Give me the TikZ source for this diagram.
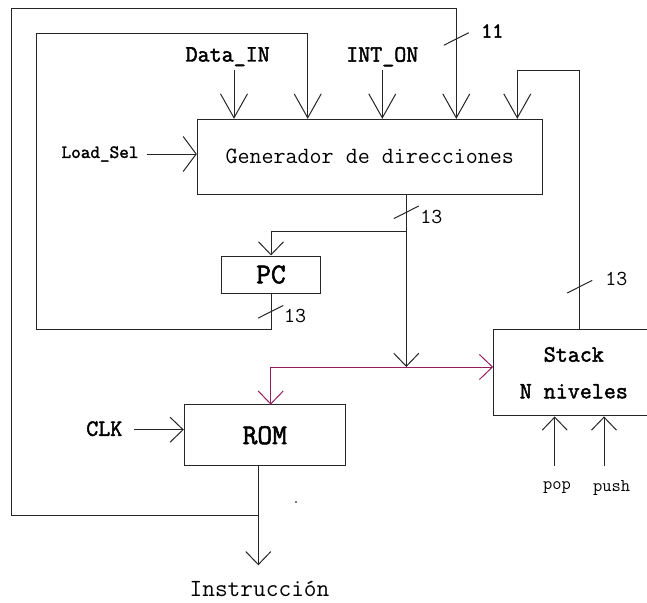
\documentclass[tikz,border=0pt]{standalone}
\usepackage{fontspec}
\setmonofont{Latin Modern Mono}[AutoFakeBold=2]
\usetikzlibrary{arrows.meta}
\newlength\pxu
\setlength\pxu{0.75pt}
\definecolor{wirered}{RGB}{150,30,95}
\tikzset{
  wire/.style={draw=black!85,line width=0.75pt},
  redwire/.style={draw=wirered},
  inarrow/.style={wire,-{Straight Barb[length=9.75pt,width=18.75pt]}},
  topin/.style={wire,-{Straight Barb[length=18pt,width=20.25pt]}},
  sidein/.style={wire,-{Straight Barb[length=9.75pt,width=26.25pt]}},
  blockbox/.style={draw=black!85,line width=0.75pt,inner sep=0pt,align=center},
  sig/.style={font=\ttfamily\bfseries\fontsize{17.5}{21}\selectfont,inner sep=1pt},
  bigsig/.style={font=\ttfamily\bfseries\fontsize{21.5}{24}\selectfont},
  smallsig/.style={font=\ttfamily\bfseries\fontsize{14}{16}\selectfont,inner sep=1pt},
  thinsig/.style={font=\ttfamily\fontsize{13.5}{16}\selectfont,inner sep=1pt},
  numlbl/.style={font=\ttfamily\fontsize{16}{18}\selectfont,inner sep=1pt},
}
\begin{document}
\begin{tikzpicture}[x=0.75pt,y=-0.75pt]
    \useasboundingbox (0,0) rectangle (647,603);
    \clip (0,0) rectangle (647,603);

    % blocks
    \node[blockbox,minimum width=345\pxu,minimum height=74.7\pxu,font=\ttfamily\fontsize{17.5}{21}\selectfont] (gen) at (369.8,156.7) {Generador de direcciones};
    \node[blockbox,bigsig,minimum width=99.4\pxu,minimum height=37\pxu] (pc) at (271,274.5) {PC};
    \node[blockbox,bigsig,minimum width=161\pxu,minimum height=61.3\pxu] (rom) at (264.8,435.3) {ROM};
    \node[blockbox,sig,minimum width=160.3\pxu,minimum height=86.3\pxu] (stack) at (573.8,372.8) {Stack\\[6.5pt]N niveles};

    % signals
    \node[sig] (datain) at (227.7,56.7) {Data\_IN};
    \node[sig] (inton) at (382.3,56.7) {INT\_ON};
    \node[smallsig] (loadsel) at (100,154) {Load\_Sel};
    \node[sig] (clk) at (104.3,428.7) {CLK};
    \node[thinsig] (pop) at (557,488) {pop};
    \node[thinsig] (push) at (611.7,488) {push};
    \node[font=\ttfamily\fontsize{18.5}{21}\selectfont,inner sep=0pt] (instr) at (259.5,589) {Instrucción};

    \coordinate (dtail) at (234,70);
    \coordinate (itail) at (382.3,70);
    \coordinate (pcloop) at (36.3,329.3);
    \coordinate (pctop) at (307.7,33);
    \coordinate (romtap) at (258.3,515.3);
    \coordinate (outtop) at (11.7,8.3);
    \coordinate (outright) at (456.3,8.3);
    \coordinate (stktop) at (517.3,70);
    \coordinate (stkout) at (579.7,329.7);
    \coordinate (genout) at (406.3,194);
    \coordinate (split) at (406.3,231.3);
    \coordinate (join) at (406.3,367);
    \coordinate (romin) at (270.7,404.7);
    \coordinate (romout) at (258.3,466);
    \coordinate (instrtip) at (258.3,565.3);
    \coordinate (clktail) at (134.3,429.7);
    \coordinate (loadtail) at (146.7,154);
    \coordinate (poptail) at (554.7,466);
    \coordinate (pushtail) at (604,466);

    % into the generator
    \draw[topin] (dtail) -- (dtail |- gen.north);
    \draw[topin] (itail) -- (itail |- gen.north);
    \draw[topin] (pc.south) |- (pcloop) |- (pctop) -- (pctop |- gen.north);
    \draw[topin] (romtap) -| (outtop) -| (outright |- gen.north);
    \draw[topin] (stkout) |- (stktop) -- (stktop |- gen.north);
    \draw[sidein] (loadtail) -- (loadtail -| gen.west);

    % address paths
    \draw[inarrow] (genout) -- (join);
    \draw[inarrow] (split) -| (pc.north);
    \draw[inarrow,redwire] (join) -| (romin);
    \draw[inarrow,redwire] (join) -- (join -| stack.west);
    \draw[inarrow] (clktail) -- (clktail -| rom.west);
    \draw[inarrow] (romout) -- (instrtip);
    \draw[inarrow] (poptail) -- (poptail |- stack.south);
    \draw[inarrow] (pushtail) -- (pushtail |- stack.south);

    % bus widths
    \foreach \x/\y in {456.3/39, 406.3/212.3, 270.7/311.8, 579.7/286.7}
        \draw[wire] (\x,\y) ++(-12.5,6.3) -- ++(25,-12.6);
    \node[sig,font=\ttfamily\bfseries\fontsize{16}{18}\selectfont] (w11) at (492.3,31) {11};
    \node[numlbl] (w13g) at (431.3,216.7) {13};
    \node[numlbl] (w13p) at (295,316) {13};
    \node[numlbl] (w13s) at (616.3,278.7) {13};

    \fill[black!70] (296,502) circle (0.8pt);
\end{tikzpicture}
\end{document}
